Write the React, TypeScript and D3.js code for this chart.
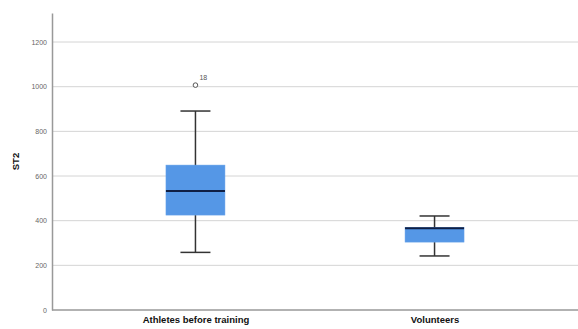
import React, { useRef, useEffect } from "react";
import * as d3 from "d3";

const categories = ["Athletes before training", "Volunteers"];
const lowerWhisker = [258, 242];
const q1 = [425, 304];
const median = [533, 366];
const q3 = [649, 370];
const upperWhisker = [891, 421];
const outliers = [{ group: 0, value: 1007, label: "18" }];
const yTicks = [0, 200, 400, 600, 800, 1000, 1200];

const App = () => {
  const svgRef = useRef<SVGSVGElement>(null);
  const width = 578;
  const height = 329;

  useEffect(() => {
    const svg = d3.select(svgRef.current);
    svg.selectAll("*").remove();
    const margin = { top: 13, right: 0, bottom: 19, left: 52 };

    const x = d3
      .scalePoint()
      .domain(categories)
      .range([margin.left, width - margin.right])
      .padding(0.6);

    const y = d3
      .scaleLinear()
      .domain([0, 1330])
      .range([height - margin.bottom, margin.top]);

    // grid
    svg
      .append("g")
      .selectAll("line")
      .data(yTicks.slice(1))
      .join("line")
      .attr("x1", margin.left)
      .attr("x2", width)
      .attr("y1", (d) => y(d))
      .attr("y2", (d) => y(d))
      .attr("stroke", "#d4d4d4")
      .attr("stroke-width", 1);

    // y axis
    const yAxis = svg
      .append("g")
      .attr("transform", `translate(${margin.left},0)`)
      .call(
        d3
          .axisLeft(y)
          .tickValues(yTicks)
          .tickFormat(d3.format("d"))
          .tickSize(0)
          .tickPadding(5)
      );
    yAxis.select(".domain").attr("stroke", "#999").attr("stroke-width", 1.5);
    yAxis
      .selectAll(".tick text")
      .attr("fill", "#666")
      .attr("font-size", 7)
      .attr("font-family", "Liberation Sans, Arial, sans-serif");

    // x axis
    const xAxis = svg
      .append("g")
      .attr("transform", `translate(0,${height - margin.bottom})`)
      .call(d3.axisBottom(x).tickSize(0).tickSizeOuter(0));
    xAxis
      .select(".domain")
      .attr("d", `M${margin.left},0H${width}`)
      .attr("stroke", "#999")
      .attr("stroke-width", 1.5);
    xAxis
      .selectAll(".tick text")
      .attr("dy", "0.71em")
      .attr("y", 6)
      .attr("fill", "#111")
      .attr("font-size", 9.5)
      .attr("font-weight", "bold")
      .attr("font-family", "Liberation Sans, Arial, sans-serif");

    svg
      .append("text")
      .attr("transform", `translate(19,${(y(0) + y(1330)) / 2}) rotate(-90)`)
      .attr("text-anchor", "middle")
      .attr("font-size", 9.5)
      .attr("font-weight", "bold")
      .attr("font-family", "Liberation Sans, Arial, sans-serif")
      .attr("fill", "#111")
      .text("ST2");

    const boxW = 59;
    const capW = 30;
    const g = svg.append("g");
    categories.forEach((c, i) => {
      const cx = x(c)!;
      g.append("line")
        .attr("x1", cx)
        .attr("x2", cx)
        .attr("y1", y(lowerWhisker[i]))
        .attr("y2", y(upperWhisker[i]))
        .attr("stroke", "#333")
        .attr("stroke-width", 1.5);
      [lowerWhisker[i], upperWhisker[i]].forEach((v) => {
        g.append("line")
          .attr("x1", cx - capW / 2)
          .attr("x2", cx + capW / 2)
          .attr("y1", y(v))
          .attr("y2", y(v))
          .attr("stroke", "#333")
          .attr("stroke-width", 1.5);
      });
      g.append("rect")
        .attr("x", cx - boxW / 2)
        .attr("width", boxW)
        .attr("y", y(q3[i]))
        .attr("height", y(q1[i]) - y(q3[i]))
        .attr("fill", "#5597e6")
        .attr("stroke", "#6aa4ea")
        .attr("stroke-width", 0.5);
      g.append("line")
        .attr("x1", cx - boxW / 2)
        .attr("x2", cx + boxW / 2)
        .attr("y1", y(median[i]))
        .attr("y2", y(median[i]))
        .attr("stroke", "#0f1f45")
        .attr("stroke-width", 2);
    });

    outliers.forEach((o) => {
      const cx = x(categories[o.group])!;
      g.append("circle")
        .attr("cx", cx)
        .attr("cy", y(o.value))
        .attr("r", 2.3)
        .attr("fill", "white")
        .attr("stroke", "#555")
        .attr("stroke-width", 1);
      g.append("text")
        .attr("x", cx + 4)
        .attr("y", y(o.value) - 5)
        .attr("font-size", 7)
        .attr("fill", "#555")
        .attr("font-family", "Liberation Sans, Arial, sans-serif")
        .text(o.label);
    });
  }, []);

  return (
    <svg
      ref={svgRef}
      width={width}
      height={height}
      style={{ position: "absolute", left: 0, top: 0, background: "white" }}
    />
  );
};

export default App;
